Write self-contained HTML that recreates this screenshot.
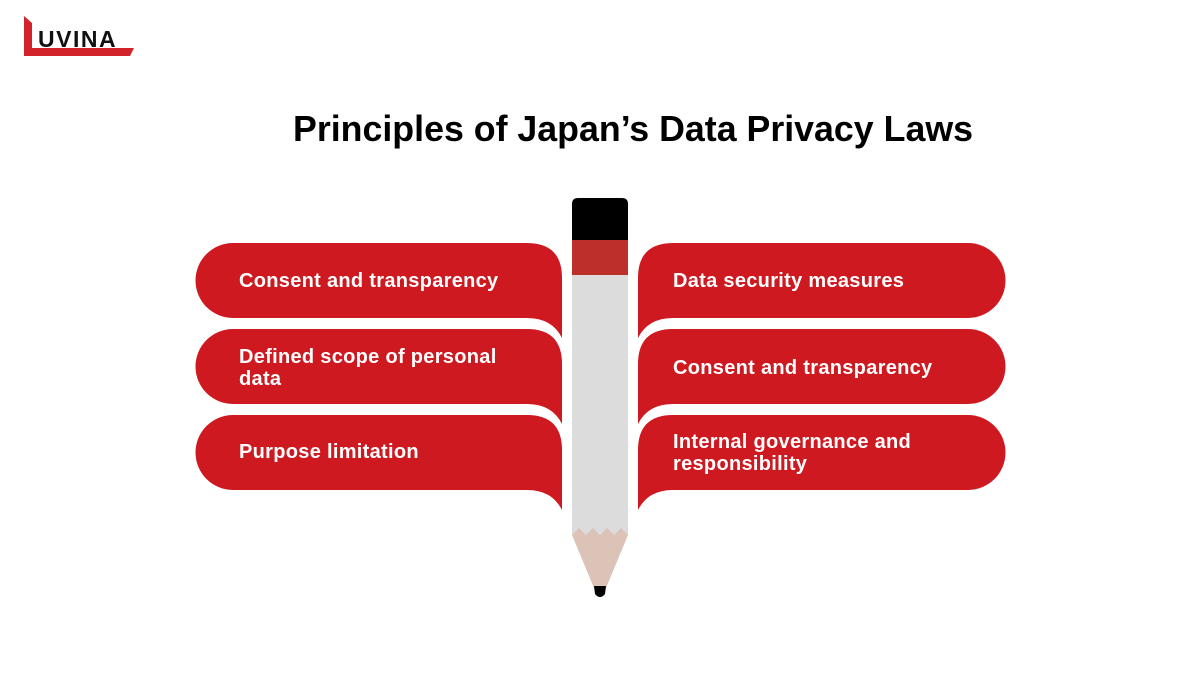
<!DOCTYPE html>
<html><head><meta charset="utf-8"><style>
body{margin:0;width:1200px;height:675px;background:#fff;overflow:hidden;font-family:"Liberation Sans",sans-serif}
</style></head><body>
<svg width="1200" height="675" viewBox="0 0 1200 675" xmlns="http://www.w3.org/2000/svg">
<!-- logo -->
<path d="M24,16 L32,23 L32,48 L134,48 L130,56 L24,56 Z" fill="#d2232a"/>
<text x="38" y="47" font-family="Liberation Sans,sans-serif" font-weight="bold" font-size="23" fill="#111" letter-spacing="1.5">UVINA</text>
<text x="633" y="141" text-anchor="middle" font-family="Liberation Sans,sans-serif" font-weight="bold" font-size="36" fill="#000" textLength="680" lengthAdjust="spacingAndGlyphs">Principles of Japan’s Data Privacy Laws</text>
<g fill="#cf1920">
<path d="M233,243 H527 Q562,243 562,278 V338 Q552,318 527,318 H233 A37.5,37.5 0 0 1 233,243 Z"/>
<path d="M233,329 H527 Q562,329 562,364 V424 Q552,404 527,404 H233 A37.5,37.5 0 0 1 233,329 Z"/>
<path d="M233,415 H527 Q562,415 562,450 V510 Q552,490 527,490 H233 A37.5,37.5 0 0 1 233,415 Z"/>
<path d="M968,243 H673 Q638,243 638,278 V338 Q648,318 673,318 H968 A37.5,37.5 0 0 0 968,243 Z"/>
<path d="M968,329 H673 Q638,329 638,364 V424 Q648,404 673,404 H968 A37.5,37.5 0 0 0 968,329 Z"/>
<path d="M968,415 H673 Q638,415 638,450 V510 Q648,490 673,490 H968 A37.5,37.5 0 0 0 968,415 Z"/>
</g>
<g font-family="Liberation Sans,sans-serif" font-weight="bold" font-size="20" fill="#fff" letter-spacing="0.3">
<text x="239" y="287">Consent and transparency</text>
<text x="239" y="363">Defined scope of personal</text>
<text x="239" y="385">data</text>
<text x="239" y="458">Purpose limitation</text>
<text x="673" y="287">Data security measures</text>
<text x="673" y="374">Consent and transparency</text>
<text x="673" y="448">Internal governance and</text>
<text x="673" y="470">responsibility</text>
</g>
<!-- pencil -->
<path d="M578,198 H622 Q628,198 628,204 V240 H572 V204 Q572,198 578,198 Z" fill="#000"/>
<rect x="572" y="240" width="56" height="35" fill="#bd2f2a"/>
<rect x="572" y="275" width="56" height="260" fill="#dcdcdc"/>
<path d="M572,535 L579,528 L586,535 L593,528 L600,535 L607,528 L614,535 L621,528 L628,535 L606,588 L594,588 Z" fill="#dcc3b8"/>
<path d="M594,586 H606 L605,594 Q600,600 595,594 Z" fill="#000"/>
</svg>
</body></html>
